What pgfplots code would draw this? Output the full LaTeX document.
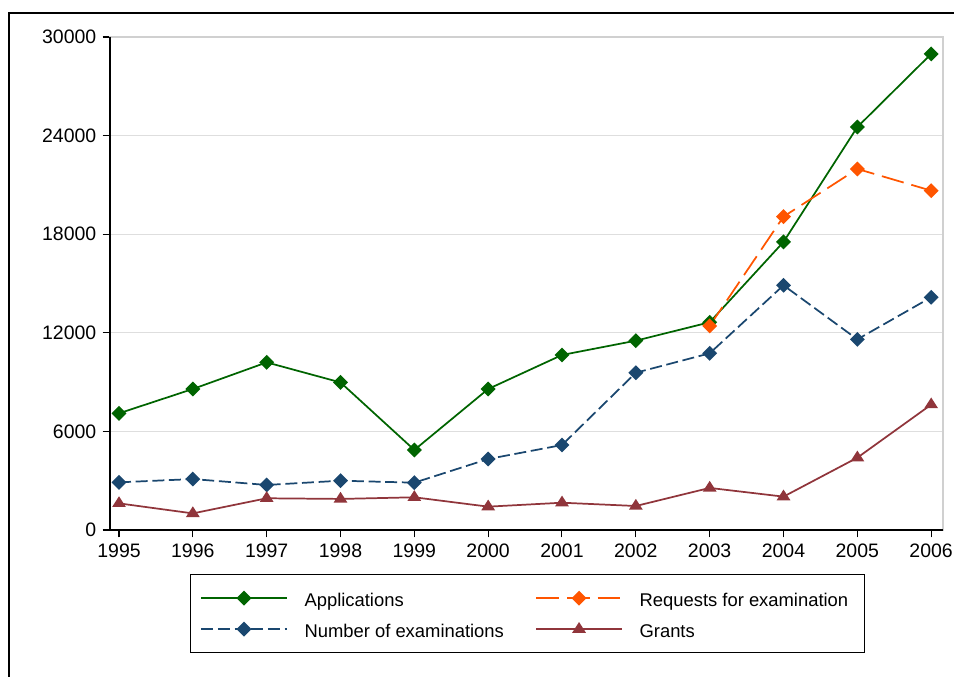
\documentclass[border=0pt]{standalone}
\usepackage{fontspec}
\setmainfont{Liberation Sans}
\usepackage{pgfplots}
\pgfplotsset{compat=1.18}
\definecolor{cgreen}{RGB}{0,100,0}
\definecolor{corange}{RGB}{255,85,0}
\definecolor{cnavy}{RGB}{26,71,111}
\definecolor{cmaroon}{RGB}{144,53,59}
\definecolor{cgrid}{RGB}{222,222,222}
\begin{document}
\fontsize{13.8pt}{16pt}\selectfont
\begin{tikzpicture}
\path[use as bounding box] (0,0) rectangle (715.5pt,507.75pt);
\draw[line width=1.1pt] (6.75pt,0pt) -- (6.75pt,498pt) -- (716pt,498pt);
\begin{axis}[
  at={(82.5pt,110.25pt)}, anchor=south west,
  scale only axis, width=624.75pt, height=369.75pt,
  xmin=1994.878, xmax=2006.16, ymin=0, ymax=30000,
  xtick={1995,...,2006}, ytick={0,6000,...,30000},
  scaled y ticks=false,
  tick align=outside, tick pos=left,
  major tick length=5.5pt,
  tick style={black, line width=0.8pt},
  ymajorgrids, grid style={cgrid, line width=0.8pt},
  axis line style={cgrid!85!gray, line width=0.8pt},
  after end axis/.code={\draw[black,line width=0.8pt] (rel axis cs:0,1) -- (rel axis cs:0,0) -- (rel axis cs:1,0);},
  ticklabel style={font=\fontsize{14.6pt}{17pt}\selectfont},
  /pgf/number format/1000 sep={},
  /pgf/number format/assume math mode=true,
  legend columns=2,
  legend image code/.code={\draw[mark repeat=2,mark phase=2,#1] plot coordinates {(0pt,0pt) (32pt,0pt) (64pt,0pt)};},
  legend style={at={(axis description cs:0.096,-0.0892)}, anchor=north west,
    draw=black, line width=0.75pt, inner xsep=7.5pt, inner ysep=11.5pt,
    row sep=10.75pt, column sep=12.75pt,
    font=\fontsize{13.8pt}{16pt}\selectfont,
    nodes={inner sep=0pt, text height=12.5pt, text depth=0pt},
    cells={anchor=west}},
]
\addplot[cgreen, line width=1.3pt, mark=square*, mark size=3.3pt, mark options={rotate=45, solid}]
coordinates {(1995,7100)(1996,8580)(1997,10200)(1998,8980)(1999,4870)(2000,8580)(2001,10650)(2002,11520)(2003,12640)(2004,17530)(2005,24520)(2006,28970)};
\addlegendentry{\makebox[160.5pt][l]{Applications}}
\addplot[corange, line width=1.3pt, dash pattern=on 17pt off 6pt, mark=square*, mark size=3.3pt, mark options={rotate=45, solid}]
coordinates {(2003,12420)(2004,19070)(2005,21970)(2006,20650)};
\addlegendentry{\makebox[161pt][l]{Requests for examination}}
\addplot[cnavy, line width=1.3pt, dash pattern=on 9pt off 3.5pt, mark=square*, mark size=3.3pt, mark options={rotate=45, solid}]
coordinates {(1995,2900)(1996,3100)(1997,2740)(1998,3000)(1999,2880)(2000,4320)(2001,5170)(2002,9570)(2003,10750)(2004,14890)(2005,11600)(2006,14160)};
\addlegendentry{\makebox[160.5pt][l]{Number of examinations}}
\addplot[cmaroon, line width=1.3pt, mark=triangle*, mark size=4.6pt, mark options={yscale=0.9, solid}]
coordinates {(1995,1620)(1996,1010)(1997,1930)(1998,1890)(1999,1990)(2000,1420)(2001,1660)(2002,1460)(2003,2560)(2004,2030)(2005,4400)(2006,7630)};
\addlegendentry{Grants}
\end{axis}
\end{tikzpicture}
\end{document}
